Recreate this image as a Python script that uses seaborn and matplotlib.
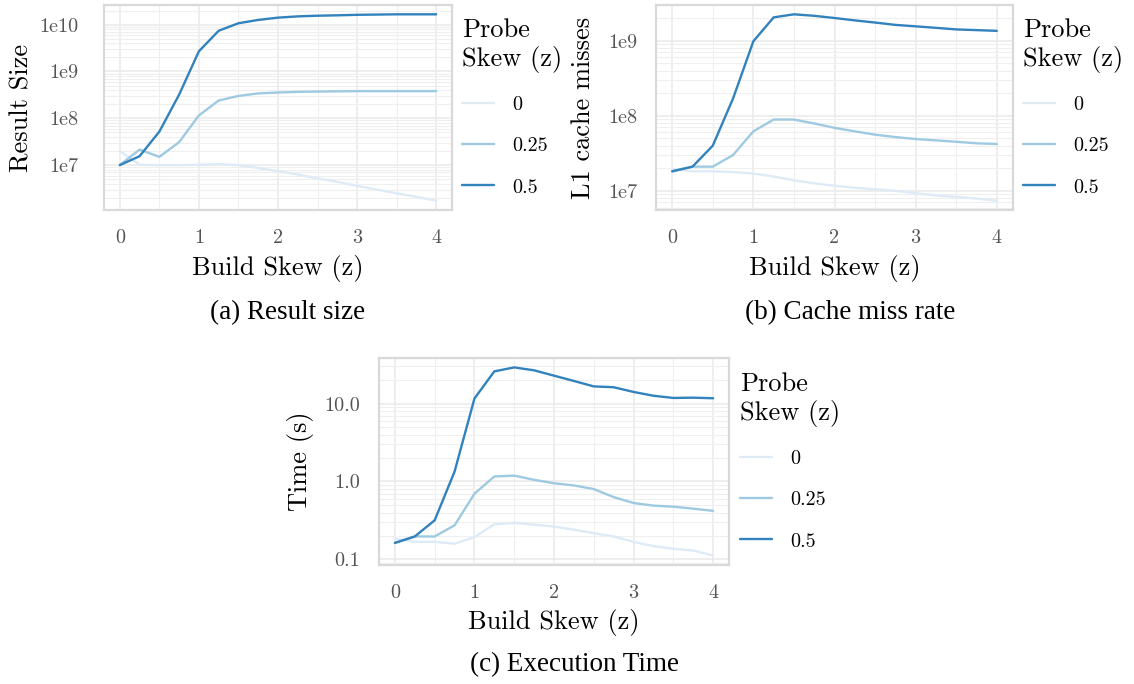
import numpy as np
import pandas as pd
import matplotlib
matplotlib.use('Agg')
import matplotlib.pyplot as plt
from matplotlib.ticker import FixedLocator, FixedFormatter, LogLocator, MultipleLocator, NullFormatter
import seaborn as sns

# data
build_skew = [0, 0.25, 0.5, 0.75, 1, 1.25, 1.5, 1.75, 2, 2.25, 2.5, 2.75, 3, 3.25, 3.5, 3.75, 4]
probe_levels = ['0', '0.25', '0.5']

size_p0 = [2.0e7, 1.02e7, 1.0e7, 1.0e7, 1.02e7, 1.05e7, 1.0e7, 8.7e6, 7.4e6, 6.3e6,
           5.2e6, 4.4e6, 3.6e6, 3.0e6, 2.5e6, 2.1e6, 1.74e6]
size_p025 = [1.0e7, 2.15e7, 1.5e7, 3.1e7, 1.15e8, 2.4e8, 3.0e8, 3.4e8, 3.55e8, 3.67e8,
             3.72e8, 3.76e8, 3.8e8, 3.8e8, 3.8e8, 3.8e8, 3.8e8]
size_p05 = [1.0e7, 1.55e7, 5.2e7, 3.2e8, 2.7e9, 7.4e9, 1.07e10, 1.26e10, 1.41e10, 1.5e10,
            1.55e10, 1.58e10, 1.62e10, 1.64e10, 1.66e10, 1.66e10, 1.66e10]

miss_p0 = [1.95e7, 1.82e7, 1.82e7, 1.78e7, 1.7e7, 1.55e7, 1.38e7, 1.26e7, 1.17e7, 1.1e7,
           1.05e7, 1.0e7, 9.3e6, 8.7e6, 8.3e6, 7.9e6, 7.4e6]
miss_p025 = [1.82e7, 2.1e7, 2.1e7, 3.0e7, 6.2e7, 8.9e7, 8.9e7, 7.9e7, 6.9e7, 6.2e7,
             5.6e7, 5.2e7, 4.9e7, 4.7e7, 4.5e7, 4.3e7, 4.2e7]
miss_p05 = [1.82e7, 2.1e7, 4.0e7, 1.7e8, 9.8e8, 2.04e9, 2.24e9, 2.14e9, 2.0e9, 1.86e9,
            1.74e9, 1.62e9, 1.55e9, 1.48e9, 1.41e9, 1.38e9, 1.35e9]

time_p0 = [0.185, 0.168, 0.168, 0.159, 0.193, 0.282, 0.294, 0.28, 0.264, 0.241,
           0.217, 0.197, 0.168, 0.148, 0.137, 0.130, 0.112]
time_p025 = [0.163, 0.197, 0.197, 0.274, 0.697, 1.16, 1.19, 1.05, 0.95, 0.89,
             0.80, 0.63, 0.53, 0.49, 0.475, 0.448, 0.42]
time_p05 = [0.163, 0.197, 0.318, 1.34, 11.6, 25.9, 29.1, 26.7, 22.8, 19.5,
            16.6, 16.2, 14.1, 12.6, 11.8, 11.9, 11.7]

size_ticks = [1e7, 1e8, 1e9, 1e10]
size_labels = ['1e7', '1e8', '1e9', '1e10']
miss_ticks = [1e7, 1e8, 1e9]
miss_labels = ['1e7', '1e8', '1e9']
time_ticks = [0.1, 1.0, 10.0]
time_labels = ['0.1', '1.0', '10.0']
x_ticks = [0, 1, 2, 3, 4]

palette = ['#deebf7', '#9ecae1', '#3182bd']


def long_frame(series):
    rows = []
    for level, vals in zip(probe_levels, series):
        for x, v in zip(build_skew, vals):
            rows.append({'build': x, 'probe': level, 'value': v})
    return pd.DataFrame(rows)


sns.set_theme(style='whitegrid')
plt.rcParams['font.family'] = ['cmr10', 'DejaVu Serif']
plt.rcParams['axes.unicode_minus'] = False
plt.rcParams['text.color'] = 'black'
plt.rcParams['axes.labelcolor'] = 'black'

fig = plt.figure(figsize=(11.34, 6.84), dpi=100)
W, H = 1134, 684


def px_axes(left, top, right, bottom):
    return fig.add_axes([left / W, 1 - bottom / H, (right - left) / W, (bottom - top) / H])


panels = [
    dict(box=(104, 5, 452, 210), data=[size_p0, size_p025, size_p05], ticks=size_ticks,
         labels=size_labels, ylabel='Result Size', ylab_x=22, ypad=18.7, xlab_y=268,
         leg=(462, 18), caption='(a) Result size', cap=(288, 313)),
    dict(box=(656, 5, 1013, 210), data=[miss_p0, miss_p025, miss_p05], ticks=miss_ticks,
         labels=miss_labels, ylabel='L1 cache misses', ylab_x=583, ypad=13.7, xlab_y=268,
         leg=(1023, 18), caption='(b) Cache miss rate', cap=(850, 313)),
    dict(box=(379, 358, 729, 565), data=[time_p0, time_p025, time_p05], ticks=time_ticks,
         labels=time_labels, ylabel='Time (s)', ylab_x=300, ypad=13.7, xlab_y=622,
         leg=(740, 372), caption='(c) Execution Time', cap=(575, 665)),
]

for p in panels:
    left, top, right, bottom = p['box']
    ax = px_axes(left, top, right, bottom)
    df = long_frame(p['data'])
    sns.lineplot(data=df, x='build', y='value', hue='probe', hue_order=probe_levels,
                 palette=palette, linewidth=1.7, ax=ax)
    ax.set_yscale('log')
    ax.margins(x=0.05, y=0.05)
    ax.set_facecolor('white')

    ax.yaxis.set_major_locator(FixedLocator(p['ticks']))
    ax.yaxis.set_major_formatter(FixedFormatter(p['labels']))
    ax.yaxis.set_minor_locator(LogLocator(base=10, subs=np.arange(2, 10)))
    ax.yaxis.set_minor_formatter(NullFormatter())
    ax.xaxis.set_major_locator(FixedLocator(x_ticks))
    ax.xaxis.set_minor_locator(MultipleLocator(0.5))

    ax.grid(which='major', color='#ebebeb', linewidth=1.2)
    ax.grid(which='minor', color='#efefef', linewidth=0.8)
    ax.set_axisbelow(True)
    for s in ax.spines.values():
        s.set_color('#d9d9d9')
        s.set_linewidth(1.6)

    ax.tick_params(axis='both', which='both', length=0, labelsize=14.5, labelcolor='#555555')
    ax.tick_params(axis='x', pad=14)
    ax.tick_params(axis='y', pad=p['ypad'])

    ax.set_xlabel('Build Skew (z)', fontsize=19, color='black')
    ax.set_ylabel(p['ylabel'], fontsize=19, color='black')
    ax.xaxis.label.set_va('center')
    ax.yaxis.label.set_va('center')
    ax.xaxis.set_label_coords(0.5, 1 - (p['xlab_y'] - top) / (bottom - top))
    ax.yaxis.set_label_coords((p['ylab_x'] - left) / (right - left), 0.5)

    handles, labels = ax.get_legend_handles_labels()
    lx, ly = p['leg']
    leg = ax.legend(handles, labels, title='Probe\nSkew (z)', loc='upper left',
                    bbox_to_anchor=(lx / W, 1 - ly / H), bbox_transform=fig.transFigure,
                    frameon=False, fontsize=14.5, title_fontsize=19, alignment='left',
                    borderpad=0, borderaxespad=0, handlelength=1.6, handletextpad=0.9,
                    labelspacing=1.15)
    leg.get_title().set_color('black')
    for t in leg.get_texts():
        t.set_color('black')

    cx, cy = p['cap']
    fig.text(cx / W, 1 - cy / H, p['caption'], ha='center', va='center', color='black',
             fontsize=19.5, family=['Liberation Serif', 'DejaVu Serif'])

fig.savefig('out.png', dpi=100)
